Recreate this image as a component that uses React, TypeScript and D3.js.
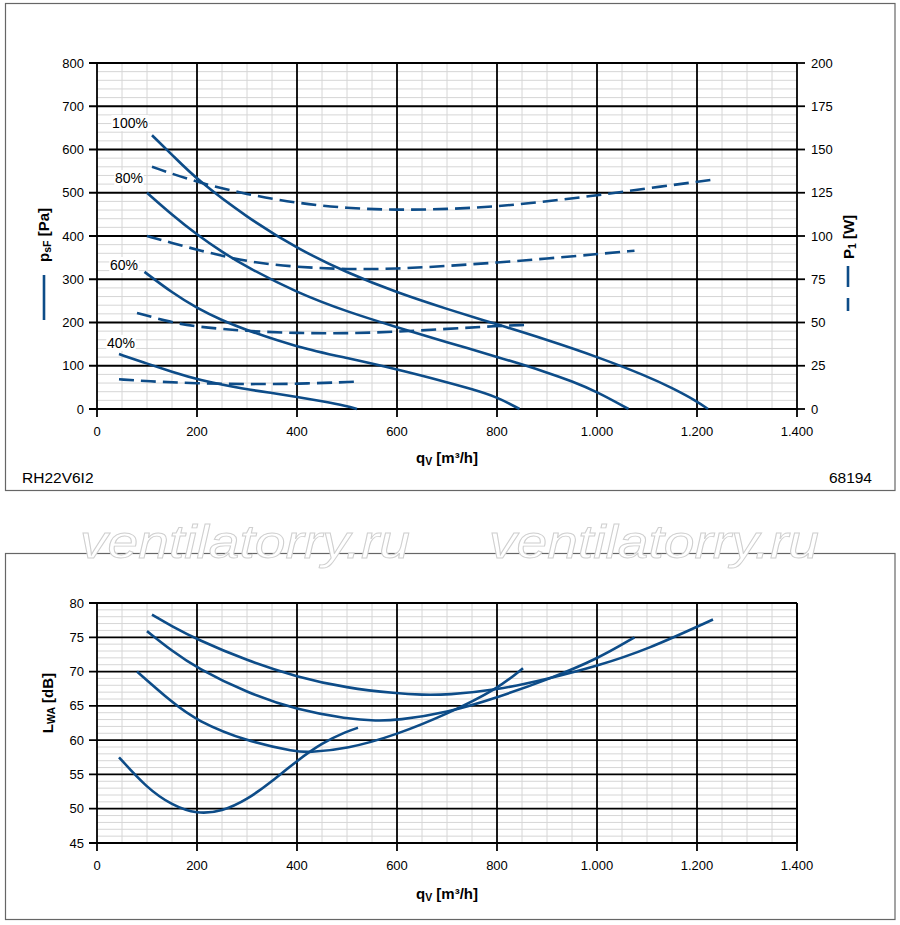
import { curveBasis, line, range, scaleLinear } from "d3";

type Pt = [number, number];

// flow axis
const flowTicks = [0, 200, 400, 600, 800, 1000, 1200, 1400];
const flowTickLabels = ["0", "200", "400", "600", "800", "1.000", "1.200", "1.400"];

// top chart axes
const pressureTicks = [0, 100, 200, 300, 400, 500, 600, 700, 800];
const powerTicks = [0, 25, 50, 75, 100, 125, 150, 175, 200];
const speedLabels = ["100%", "80%", "60%", "40%"];
const speedLabelAt: Pt[] = [
  [66, 661],
  [64, 534],
  [54, 333],
  [48, 153],
];

// static pressure psF [Pa]
const pressure100: Pt[] = [
  [110, 633], [150, 588], [200, 530], [300, 443], [400, 371], [500, 315],
  [600, 269], [700, 231], [800, 196], [900, 160], [1000, 121], [1100, 76],
  [1150, 49], [1200, 18], [1222, 0],
];
const pressure80: Pt[] = [
  [100, 500], [150, 449], [200, 403], [250, 363], [300, 328], [400, 269],
  [500, 225], [600, 189], [700, 154], [800, 121], [900, 85], [950, 64],
  [1000, 40], [1063, 0],
];
const pressure60: Pt[] = [
  [95, 317], [150, 269], [200, 233], [250, 205], [300, 182], [400, 143],
  [500, 118], [600, 92], [700, 62], [750, 46], [800, 28], [845, 0],
];
const pressure40: Pt[] = [
  [44, 127], [100, 105], [150, 86], [200, 68], [300, 45], [350, 37], [400, 28],
  [450, 18], [500, 7], [520, 0],
];

// input power P1 [W]
const power100: Pt[] = [
  [110, 140], [200, 131], [300, 124], [400, 119], [500, 116], [600, 115],
  [700, 115.5], [800, 117], [900, 120], [1000, 123.5], [1100, 127.5], [1230, 132.5],
];
const power80: Pt[] = [
  [100, 100], [150, 96], [200, 92], [300, 85], [400, 82], [500, 80.7],
  [600, 81], [700, 82.7], [800, 84.6], [900, 87], [1000, 89.5], [1075, 91.5],
];
const power60: Pt[] = [
  [80, 55.5], [150, 50], [200, 47.5], [300, 45], [400, 43.8], [500, 43.7],
  [600, 44.6], [700, 46.3], [800, 48], [855, 48.6],
];
const power40: Pt[] = [
  [44, 17.2], [100, 16], [200, 14.8], [300, 14.3], [400, 14.5], [522, 15.8],
];

// bottom chart: sound power LWA [dB]
const soundTicks = [45, 50, 55, 60, 65, 70, 75, 80];
const sound100: Pt[] = [
  [110, 78.3], [150, 76.6], [200, 74.7], [300, 71.6], [400, 69.2], [500, 67.6],
  [600, 66.8], [650, 66.6], [700, 66.6], [800, 67.3], [900, 68.9], [1000, 70.8],
  [1100, 73.2], [1232, 77.6],
];
const sound80: Pt[] = [
  [100, 75.9], [150, 73.0], [200, 70.5], [300, 66.9], [400, 64.4], [500, 63.1],
  [560, 62.8], [600, 62.9], [700, 64.0], [800, 66.2], [900, 68.8], [1000, 71.8],
  [1075, 75.0],
];
const sound60: Pt[] = [
  [80, 70.0], [150, 65.5], [200, 62.8], [300, 59.8], [400, 58.3], [420, 58.2],
  [500, 58.7], [600, 60.8], [700, 63.8], [800, 67.4], [852, 70.5],
];
const sound40: Pt[] = [
  [44, 57.5], [100, 53.0], [150, 50.5], [200, 49.2], [250, 49.6], [300, 51.3],
  [350, 54.0], [400, 57.0], [450, 59.6], [500, 61.3], [522, 61.8],
];

const BLUE = "#0d4c88";
const FONT = "'Liberation Sans', Arial, Helvetica, sans-serif";

const x = scaleLinear().domain([0, 1400]).range([97, 797]);
const yPa = scaleLinear().domain([0, 800]).range([409, 63]);
const yW = scaleLinear().domain([0, 200]).range([409, 63]);
const yDb = scaleLinear().domain([45, 80]).range([843, 603]);

function Grid({
  yScale,
  majors,
  minorStep,
}: {
  yScale: (v: number) => number;
  majors: number[];
  minorStep: number;
}) {
  const lo = majors[0];
  const hi = majors[majors.length - 1];
  const minorY = range(lo, hi + 1e-6, minorStep).filter(
    (v) => !majors.some((m) => Math.abs(m - v) < 1e-6)
  );
  const minorX = range(0, 1401, 50).filter((v) => v % 200 !== 0);
  const top = yScale(hi);
  const bottom = yScale(lo);
  return (
    <g>
      <g stroke="#d6d6d6" strokeWidth={1}>
        {minorY.map((v) => (
          <line key={`hy${v}`} x1={x(0)} x2={x(1400)} y1={yScale(v)} y2={yScale(v)} />
        ))}
        {minorX.map((v) => (
          <line key={`vx${v}`} x1={x(v)} x2={x(v)} y1={top} y2={bottom} />
        ))}
      </g>
      <g stroke="#000" strokeWidth={1.8}>
        {majors.map((v) => (
          <line key={`my${v}`} x1={x(0) - 8} x2={x(1400)} y1={yScale(v)} y2={yScale(v)} />
        ))}
        {flowTicks.map((v) => (
          <line key={`mx${v}`} x1={x(v)} x2={x(v)} y1={top} y2={bottom + 8} />
        ))}
      </g>
      <g fontFamily={FONT} fontSize={13} fill="#000">
        {majors.map((v) => (
          <text key={`ly${v}`} x={x(0) - 13} y={yScale(v)} textAnchor="end" dominantBaseline="central">
            {v}
          </text>
        ))}
        {flowTicks.map((v, i) => (
          <text key={`lx${v}`} x={x(v)} y={bottom + 22} textAnchor="middle" dominantBaseline="central">
            {flowTickLabels[i]}
          </text>
        ))}
      </g>
    </g>
  );
}

function FlowTitle({ y }: { y: number }) {
  return (
    <text x={447} y={y} textAnchor="middle" dominantBaseline="central" fontFamily={FONT} fontSize={15} fontWeight="bold">
      q<tspan fontSize={10.5} dy={4}>V</tspan>
      <tspan dy={-4}> [m³/h]</tspan>
    </text>
  );
}

function SideTitle({ cx, cy, main, sub, unit }: { cx: number; cy: number; main: string; sub: string; unit: string }) {
  return (
    <text
      transform={`translate(${cx},${cy}) rotate(-90)`}
      textAnchor="middle"
      dominantBaseline="central"
      fontFamily={FONT}
      fontSize={15}
      fontWeight="bold"
    >
      {main}
      <tspan fontSize={10.5} dy={4}>{sub}</tspan>
      <tspan dy={-4}> {unit}</tspan>
    </text>
  );
}

export default function App() {
  const pathPa = line<Pt>()
    .x((d) => x(d[0]))
    .y((d) => yPa(d[1]))
    .curve(curveBasis);
  const pathW = line<Pt>()
    .x((d) => x(d[0]))
    .y((d) => yW(d[1]))
    .curve(curveBasis);
  const pathDb = line<Pt>()
    .x((d) => x(d[0]))
    .y((d) => yDb(d[1]))
    .curve(curveBasis);

  const pressureSeries = [pressure100, pressure80, pressure60, pressure40];
  const powerSeries = [power100, power80, power60, power40];
  const soundSeries = [sound100, sound80, sound60, sound40];

  return (
    <svg
      width={900}
      height={925}
      viewBox="0 0 900 925"
      style={{ position: "absolute", left: 0, top: 0, background: "#fff" }}
    >
      {/* top panel */}
      <rect x={5.5} y={3.5} width={889.5} height={487} fill="#fff" stroke="#666" strokeWidth={1.2} />
      <Grid yScale={yPa} majors={pressureTicks} minorStep={20} />
      {/* right axis */}
      <g>
        {powerTicks.map((v) => (
          <line key={`rt${v}`} x1={x(1400)} x2={x(1400) + 8} y1={yW(v)} y2={yW(v)} stroke="#000" strokeWidth={1.8} />
        ))}
        {powerTicks.map((v) => (
          <text
            key={`rl${v}`}
            x={x(1400) + 14}
            y={yW(v)}
            dominantBaseline="central"
            fontFamily={FONT}
            fontSize={13}
          >
            {v}
          </text>
        ))}
      </g>
      <g fill="none" stroke={BLUE} strokeWidth={2.6}>
        {pressureSeries.map((s, i) => (
          <path key={`p${i}`} d={pathPa(s) ?? ""} />
        ))}
        {powerSeries.map((s, i) => (
          <path key={`w${i}`} d={pathW(s) ?? ""} strokeDasharray="15,7" />
        ))}
      </g>
      {speedLabels.map((t, i) => {
        const cx = x(speedLabelAt[i][0]);
        const cy = yPa(speedLabelAt[i][1]);
        const w = t.length * 7.8 + 6;
        return (
          <g key={t}>
            <rect x={cx - w / 2} y={cy - 8} width={w} height={16} fill="#fff" />
            <text x={cx} y={cy} textAnchor="middle" dominantBaseline="central" fontFamily={FONT} fontSize={14}>
              {t}
            </text>
          </g>
        );
      })}
      <FlowTitle y={457} />
      <SideTitle cx={43} cy={235} main="p" sub="sF" unit="[Pa]" />
      <line x1={44} x2={44} y1={275} y2={320} stroke={BLUE} strokeWidth={2.6} />
      <SideTitle cx={848} cy={237} main="P" sub="1" unit="[W]" />
      <line x1={848} x2={848} y1={266} y2={287} stroke={BLUE} strokeWidth={2.6} />
      <line x1={848} x2={848} y1={298} y2={311} stroke={BLUE} strokeWidth={2.6} />
      <text x={22} y={477} dominantBaseline="central" fontFamily={FONT} fontSize={15.5}>
        RH22V6I2
      </text>
      <text x={872} y={477} textAnchor="end" dominantBaseline="central" fontFamily={FONT} fontSize={15.5}>
        68194
      </text>

      {/* bottom panel */}
      <rect x={5.5} y={553.5} width={889.5} height={366} fill="#fff" stroke="#666" strokeWidth={1.2} />
      <Grid yScale={yDb} majors={soundTicks} minorStep={1} />
      <line x1={x(1400)} x2={x(1400)} y1={yDb(80)} y2={yDb(45)} stroke="#000" strokeWidth={1.8} />
      <g fill="none" stroke={BLUE} strokeWidth={2.6}>
        {soundSeries.map((s, i) => (
          <path key={`s${i}`} d={pathDb(s) ?? ""} />
        ))}
      </g>
      <FlowTitle y={893} />
      <SideTitle cx={47} cy={703} main="L" sub="WA" unit="[dB]" />

      {/* watermarks */}
      {[80, 489].map((wx) => (
        <text
          key={`wm${wx}`}
          x={wx}
          y={558}
          textLength={330}
          lengthAdjust="spacingAndGlyphs"
          fontFamily={FONT}
          fontStyle="italic"
          fontSize={46}
          fill="#fff"
          stroke="#cfcfcf"
          strokeWidth={0.9}
        >
          ventilatorry.ru
        </text>
      ))}
    </svg>
  );
}
